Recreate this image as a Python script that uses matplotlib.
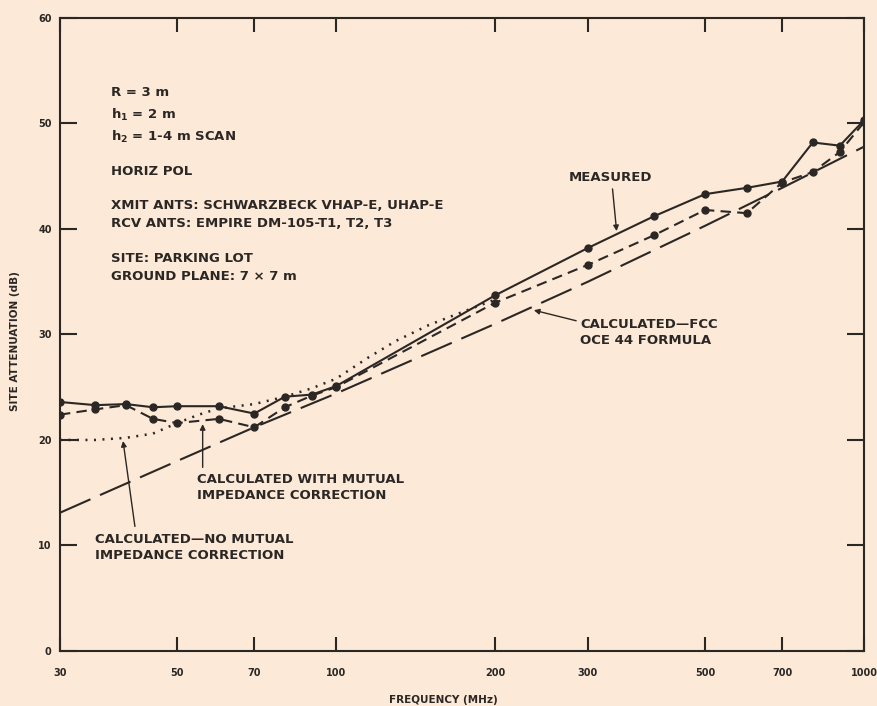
import matplotlib
matplotlib.use("Agg")
import matplotlib.pyplot as plt
from matplotlib.ticker import FixedLocator, NullLocator

plt.rcParams.update({
    "font.family": "DejaVu Sans",
    "font.weight": "bold",
    "font.size": 7,
})

BG = "#fce9d7"
INK = "#2b2724"

# ── values ──
freq_meas = [30, 35, 40, 45, 50, 60, 70, 80, 90, 100, 200, 300, 400, 500, 600, 700, 800, 900, 1000]
att_meas = [23.6, 23.3, 23.4, 23.1, 23.2, 23.2, 22.5, 24.1, 24.3, 25.1,
            33.7, 38.2, 41.2, 43.3, 43.9, 44.5, 48.2, 47.9, 50.3]

freq_mut = [30, 35, 40, 45, 50, 60, 70, 80, 90, 100, 200, 300, 400, 500, 600, 700, 800, 900, 1000]
att_mut = [22.4, 22.9, 23.3, 22.0, 21.6, 22.0, 21.2, 23.1, 24.2, 25.0,
           33.0, 36.6, 39.4, 41.8, 41.5, 44.4, 45.4, 47.3, 50.1]

freq_nomut = [30, 35, 40, 45, 50, 55, 60, 70, 80, 90, 100, 115, 130, 150, 175, 200]
att_nomut = [20.0, 20.0, 20.2, 20.6, 21.6, 22.4, 23.0, 23.4, 24.1, 24.9, 25.8,
             27.8, 29.4, 30.9, 32.2, 33.3]

freq_fcc = [30, 50, 70, 100, 200, 300, 500, 700, 1000]
att_fcc = [13.1, 18.0, 21.2, 24.4, 31.0, 35.0, 40.3, 43.9, 47.8]

xticks = [30, 50, 70, 100, 200, 300, 500, 700, 1000]
yticks = [0, 10, 20, 30, 40, 50, 60]

fig = plt.figure(figsize=(8.78, 7.06), dpi=100, facecolor=BG)
ax = fig.add_axes([0.0683, 0.078, 0.9157, 0.8965])
ax.set_facecolor(BG)

ax.plot(freq_fcc, att_fcc, color=INK, lw=1.5, dashes=(16, 5))
ax.plot(freq_nomut, att_nomut, color=INK, lw=1.8, dashes=(0.8, 2.6))
ax.plot(freq_mut, att_mut, color=INK, lw=1.5, dashes=(5, 3),
        marker="o", ms=5, mfc=INK, mec=INK)
ax.plot(freq_meas, att_meas, color=INK, lw=1.5,
        marker="o", ms=5, mfc=INK, mec=INK)

ax.set_xscale("log")
ax.set_xlim(30, 1000)
ax.set_ylim(0, 60)
ax.xaxis.set_major_locator(FixedLocator(xticks))
ax.xaxis.set_minor_locator(NullLocator())
ax.set_xticklabels([str(v) for v in xticks])
ax.set_yticks(yticks)
ax.tick_params(axis="x", direction="in", length=10, width=1.5, top=True,
               colors=INK, labelsize=7, pad=12)
ax.tick_params(axis="y", direction="in", length=12, width=1.5, right=True,
               colors=INK, labelsize=7, pad=6)
for sp in ax.spines.values():
    sp.set_linewidth(1.5)
    sp.set_color(INK)

ax.set_xlabel("FREQUENCY (MHz)", fontsize=7.5, fontweight="bold", color=INK)
ax.xaxis.set_label_coords(0.477, -0.07)
ax.set_ylabel("SITE ATTENUATION (dB)", fontsize=7.5, fontweight="bold", color=INK)
ax.yaxis.set_label_coords(-0.05, 0.49)

# ── parameter block ──
FS = 9.5
tx = 0.064
info = [
    (0.882, "R = 3 m"),
    (0.847, "h$_1$ = 2 m"),
    (0.812, "h$_2$ = 1-4 m SCAN"),
    (0.758, "HORIZ POL"),
    (0.703, "XMIT ANTS: SCHWARZBECK VHAP-E, UHAP-E"),
    (0.676, "RCV ANTS: EMPIRE DM-105-T1, T2, T3"),
    (0.620, "SITE: PARKING LOT"),
    (0.592, "GROUND PLANE: 7 × 7 m"),
]
for y, s in info:
    ax.text(tx, y, s, transform=ax.transAxes, fontsize=FS, fontweight="bold",
            color=INK, va="center", ha="left")

arrow = dict(arrowstyle="-|>", color=INK, lw=1.0, mutation_scale=8,
             shrinkA=0, shrinkB=0)

ax.text(331, 44.9, "MEASURED", ha="center", va="center", fontsize=FS,
        fontweight="bold", color=INK)
ax.annotate("", xy=(340, 39.8), xytext=(334, 43.8), arrowprops=arrow)

ax.text(290, 30.2, "CALCULATED\u2014FCC\nOCE 44 FORMULA", ha="left", va="center",
        fontsize=FS, fontweight="bold", color=INK, linespacing=1.3)
ax.annotate("", xy=(237, 32.3), xytext=(285, 31.3), arrowprops=arrow)

ax.text(54.6, 15.5, "CALCULATED WITH MUTUAL\nIMPEDANCE CORRECTION", ha="left", va="center",
        fontsize=FS, fontweight="bold", color=INK, linespacing=1.3)
ax.annotate("", xy=(55.9, 21.5), xytext=(55.9, 17.4), arrowprops=arrow)

ax.text(35.0, 9.8, "CALCULATED\u2014NO MUTUAL\nIMPEDANCE CORRECTION", ha="left", va="center",
        fontsize=FS, fontweight="bold", color=INK, linespacing=1.3)
ax.annotate("", xy=(39.5, 19.9), xytext=(41.6, 11.8), arrowprops=arrow)

fig.savefig("out.png", dpi=100, facecolor=BG)
